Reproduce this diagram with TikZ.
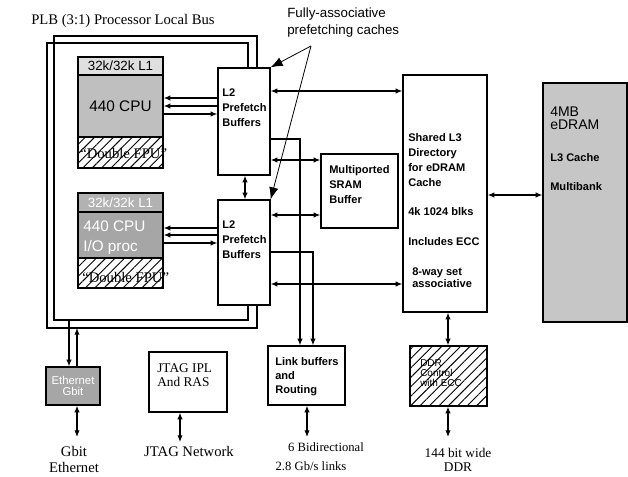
\documentclass[tikz,border=0pt]{standalone}
\usepackage{fontspec}
\setmainfont{Liberation Serif}
\setsansfont{Liberation Sans}
\usetikzlibrary{arrows.meta, patterns.meta}

\tikzset{
  box/.style={draw, line width=1pt, inner sep=0pt},
  hatch/.style={box, pattern={Lines[angle=45, distance=5pt, line width=0.7pt]}},
  bold txt/.style={inner sep=0pt, align=left, font=\sffamily\bfseries\fontsize{8.3}{11.25}\selectfont},
  sans txt/.style={inner sep=0pt, align=left, font=\sffamily\fontsize{10}{12.5}\selectfont},
  serif txt/.style={inner sep=0pt, align=center, font=\fontsize{11}{12}\selectfont},
  bus/.style={line width=1pt},
  one/.style={line width=0.8pt, -{Latex[length=5pt, width=4pt]}},
  both/.style={line width=0.8pt, {Latex[length=5pt, width=4pt]}-{Latex[length=5pt, width=4pt]}},
  callout/.style={line width=0.6pt, -{Latex[length=9pt, width=7pt]}}
}

\begin{document}
\begin{tikzpicture}[x=0.75pt,y=-0.75pt]
\useasboundingbox (0,0) rectangle (628,477);

\node[serif txt, anchor=west] (plb) at (31,21) {PLB (3:1) Processor Local Bus};
\node[sans txt, anchor=north west] (note) at (287,8) {Fully-associative\\prefetching caches};

% processor cores
\node[box, fill=gray!25, minimum width=63.75pt, minimum height=13.5pt, font=\sffamily\fontsize{10}{12}\selectfont] (l1a) at (120.5,66) {32k/32k L1};
\node[box, fill=gray!50, minimum width=63.75pt, minimum height=46.5pt, font=\sffamily\fontsize{11.5}{13}\selectfont] (cpua) at (120.5,106) {440 CPU};
\node[hatch, minimum width=63.75pt, minimum height=23.25pt] (fpua) at (120.5,152.5) {};
\node[serif txt, anchor=west] (fpuatxt) at (80,153) {“Double FPU”};

\node[box, fill=gray!60, minimum width=63.75pt, minimum height=14.25pt, text=white, font=\sffamily\fontsize{10}{12}\selectfont] (l1b) at (120.5,202.5) {32k/32k L1};
\node[box, fill=gray!70, minimum width=63.75pt, minimum height=34.5pt] (cpub) at (120.5,235) {};
\node[sans txt, anchor=west, text=white, font=\sffamily\fontsize{11.5}{15}\selectfont] (cpubtxt) at (83,238) {440 CPU\\I/O proc};
\node[hatch, minimum width=63.75pt, minimum height=22.5pt] (fpub) at (120.5,273) {};
\node[serif txt, anchor=west] (fpubtxt) at (82,277) {“Double FPU”};

% L2 / SRAM / L3
\node[box, minimum width=39pt, minimum height=80.25pt] (l2a) at (244,121.5) {};
\node[bold txt, anchor=west] (l2atxt) at (222,107.5) {L2\\Prefetch\\Buffers};
\node[box, minimum width=39pt, minimum height=78.75pt] (l2b) at (244,252.5) {};
\node[bold txt, anchor=west] (l2btxt) at (222,240) {L2\\Prefetch\\Buffers};

\node[box, minimum width=57.75pt, minimum height=55.5pt] (sram) at (359.5,191) {};
\node[bold txt, anchor=west] (sramtxt) at (329,184.5) {Multiported\\SRAM\\Buffer};

\node[box, minimum width=63pt, minimum height=177.75pt] (l3) at (445,193.5) {};
\node[bold txt, anchor=west] (l3txta) at (408,160) {Shared L3\\Directory\\for eDRAM\\Cache};
\node[bold txt, anchor=west] (l3txtb) at (408,212) {4k 1024 blks};
\node[bold txt, anchor=west] (l3txtc) at (408,242) {Includes ECC};
\node[bold txt, anchor=west, font=\sffamily\bfseries\fontsize{8.3}{8.6}\selectfont] (l3txtd) at (412,277.5) {8-way set\\associative};

\node[box, fill=gray!45, minimum width=63pt, minimum height=179.25pt] (edram) at (585,202.5) {};
\node[sans txt, anchor=west, font=\sffamily\fontsize{10.5}{10}\selectfont] (edramtxt) at (550,118.5) {4MB\\eDRAM};
\node[bold txt, anchor=west] (edramtxtb) at (550,158) {L3 Cache};
\node[bold txt, anchor=west] (edramtxtc) at (550,187) {Multibank};

% bottom row
\node[box, fill=gray!70, minimum width=40.5pt, minimum height=28.5pt, text=white, align=center, font=\sffamily\fontsize{8.5}{8.5}\selectfont] (eth) at (73,386) {Ethernet\\Gbit};
\node[box, minimum width=58.5pt, minimum height=45pt] (jtag) at (188,382) {};
\node[serif txt, anchor=west, align=left, font=\fontsize{10}{10.5}\selectfont] (jtagtxt) at (157,375) {JTAG IPL\\And RAS};
\node[box, minimum width=57.75pt, minimum height=44.25pt] (link) at (306.5,375.5) {};
\node[bold txt, anchor=west, font=\sffamily\bfseries\fontsize{8.3}{10.5}\selectfont] (linktxt) at (275,377) {Link buffers\\and\\Routing};
\node[hatch, minimum width=57.75pt, minimum height=45pt] (ddr) at (448.5,376) {};
\node[sans txt, anchor=west, font=\sffamily\fontsize{7.5}{7.5}\selectfont] (ddrtxt) at (420,373) {DDR\\Control\\with ECC};

% bus loops
\draw[bus] (l2a.north -| 257,0) |- (54,36) -- (54,320) -| (l2b.south -| 248,0);
\draw[bus] (l2a.north -| 248,0) |- (47,43) -- (47,328) -| (l2b.south -| 257,0);

% core <-> L2
\foreach \y in {98,106} \draw[one] (l2a.west |- 0,\y) -- (cpua.east |- 0,\y);
\draw[one] (cpua.east |- 0,114) -- (l2a.west |- 0,114);
\foreach \y in {228,235} \draw[one] (l2b.west |- 0,\y) -- (cpub.east |- 0,\y);
\draw[one] (cpub.east |- 0,243) -- (l2b.west |- 0,243);

% L2 <-> rest
\draw[both] (l2a.east |- 0,91) -- (l3.west |- 0,91);
\draw[both] (l2a.east |- 0,160) -- (sram.west |- 0,160);
\draw[both] (l2b.east |- 0,215) -- (sram.west |- 0,215);
\draw[both] (l2b.east |- 0,284) -- (l3.west |- 0,284);
\draw[both] (l2a.south -| 245,0) -- (l2b.north -| 245,0);
\draw[one] (l2a.east |- 0,139) -| (link.north -| 300,0);
\draw[one] (l2b.east |- 0,252) -| (link.north -| 313,0);
\draw[both] (l3.east |- 0,195) -- (edram.west |- 0,195);
\draw[both] (l3.south -| 448,0) -- (ddr.north -| 448,0);

% ethernet
\coordinate (ethin) at (69,320);
\coordinate (ethout) at (77,328);
\draw[one] (ethin) -- (eth.north -| ethin);
\draw[one] (eth.north -| ethout) -- (ethout);

% outside connections
\coordinate (gbe) at (77,437);
\coordinate (jnet) at (180,442);
\coordinate (links) at (307,437);
\coordinate (ddrout) at (448,437);
\draw[both] (eth.south -| gbe) -- (gbe);
\draw[both] (jtag.south -| jnet) -- (jnet);
\draw[both] (link.south -| links) -- (links);
\draw[both] (ddr.south -| ddrout) -- (ddrout);

\node[serif txt, font=\fontsize{11}{12}\selectfont] (gbetxt) at (74,459) {Gbit\\Ethernet};
\node[serif txt] (jnettxt) at (189,451) {JTAG Network};
\node[serif txt, font=\fontsize{9.5}{10}\selectfont] (linkstxta) at (326,447) {6 Bidirectional};
\node[serif txt, font=\fontsize{9.5}{10}\selectfont] (linkstxtb) at (311,466) {2.8 Gb/s links};
\node[serif txt, font=\fontsize{10}{10.5}\selectfont] (ddrouttxt) at (458,460) {144 bit wide\\DDR};

% callout
\coordinate (notept) at (311,46);
\draw[callout] (notept) -- (l2a.north east);
\draw[callout] (notept) -- (l2b.north east);
\end{tikzpicture}
\end{document}
